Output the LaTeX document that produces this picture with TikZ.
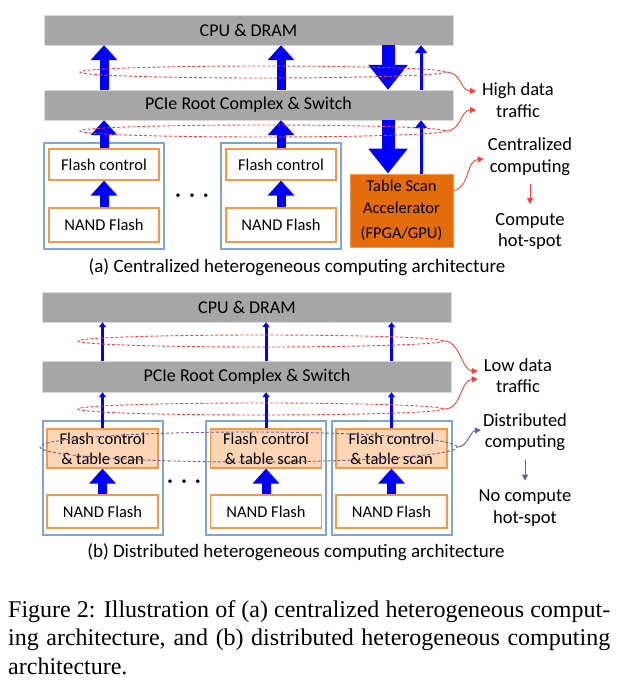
\documentclass[tikz,border=0pt]{standalone}
\usepackage{fontspec}
\setmainfont{Liberation Serif}
\newfontfamily\diafont{Carlito}
\usetikzlibrary{arrows.meta,shapes.geometric}

\definecolor{bargray}{RGB}{166,166,166}
\definecolor{boxblue}{RGB}{125,165,215}
\definecolor{boxorange}{RGB}{247,150,70}
\definecolor{accorange}{RGB}{228,108,10}
\definecolor{scanfill}{RGB}{252,213,180}
\definecolor{trafficred}{RGB}{255,60,60}
\definecolor{computepurple}{RGB}{112,90,150}

\begin{document}
\begin{tikzpicture}[x=1pt, y=-1pt,
	busbar/.style={fill = bargray,
		draw = white!85!black,
		inner sep = 0,
		minimum width = 409pt,
		minimum height = 30pt,
		font = \diafont\fontsize{18}{21}\selectfont},
	ssdbox/.style={draw = boxblue,
		line width = 1.5pt,
		minimum width = 120pt,
		inner sep = 0},
	flashbox/.style={draw = boxorange,
		line width = 1.2pt,
		fill = white,
		minimum width = 110pt,
		minimum height = 34pt,
		inner sep = 0,
		font = \diafont\fontsize{16.5}{19}\selectfont},
	ctrlbox/.style={flashbox, minimum height = 31pt},
	scanbox/.style={flashbox,
		fill = scanfill,
		minimum width = 111pt,
		minimum height = 39pt,
		align = center,
		font = \diafont\fontsize{16.5}{20}\selectfont},
	fatarrow/.style={blue, line width = 9pt, -{Triangle[width=26pt,length=15pt]}},
	bigarrow/.style={blue, line width = 13pt, -{Triangle[width=38pt,length=25pt]}},
	slimarrow/.style={blue, line width = 3pt, -{Triangle[width=12pt,length=8pt]}},
	hairarrow/.style={blue, line width = 3pt, -{Triangle[width=7pt,length=5pt]}},
	traffic/.style={ellipse,
		draw = trafficred,
		dash pattern = on 3pt off 2pt,
		line width = 0.9pt,
		minimum width = 365pt,
		minimum height = 12pt,
		inner sep = 0},
	wavy/.style={trafficred, line width = 0.9pt, -{Triangle[width=6pt,length=6pt]}},
	note/.style={align = center,
		inner sep = 1pt,
		font = \diafont\fontsize{18.5}{21.5}\selectfont},
	subcap/.style={inner sep = 0, font = \diafont\fontsize{19}{22}\selectfont},
	dots/.style={inner sep = 0, font = \diafont\fontsize{10}{10}\selectfont}]

	\useasboundingbox (0,0) rectangle (619,693);

	% (a) centralized
	\node[busbar](cpuA) at (248.5,30){CPU \& DRAM};
	\node[busbar](pcieA) at (248.5,105){PCIe Root Complex \& Switch};

	\node[ssdbox, minimum height = 106pt](ssdA1) at (104,196){};
	\node[ctrlbox](ctrlA1) at (104,164.5){Flash control};
	\node[flashbox](nandA1) at (104,225){NAND Flash};

	\node[ssdbox, minimum height = 106pt](ssdA2) at (281,196){};
	\node[ctrlbox](ctrlA2) at (281,164.5){Flash control};
	\node[flashbox](nandA2) at (281,225){NAND Flash};

	\node[dots](dotsA) at (192,196){\textbullet\hspace{9pt}\textbullet\hspace{9pt}\textbullet};

	\node[draw = boxorange,
		  line width = 1pt,
		  fill = accorange,
		  minimum width = 103pt,
		  minimum height = 73pt,
		  inner sep = 0,
		  align = center,
		  font = \diafont\fontsize{16.5}{22}\selectfont](accel) at (401.5,210.5)
		  {Table Scan\\Accelerator\\[3pt](FPGA/GPU)};

	\coordinate (dnA) at (388,0);
	\coordinate (upA) at (421,0);

	\draw[fatarrow] (nandA1) -- (ctrlA1);
	\draw[fatarrow] (nandA2) -- (ctrlA2);
	\draw[fatarrow] (ctrlA1) -- (pcieA.south -| ctrlA1);
	\draw[fatarrow] (ctrlA2) -- (pcieA.south -| ctrlA2);
	\draw[fatarrow] (pcieA.north -| ctrlA1) -- (cpuA.south -| ctrlA1);
	\draw[fatarrow] (pcieA.north -| ctrlA2) -- (cpuA.south -| ctrlA2);

	\draw[bigarrow] (cpuA.south -| dnA) -- (pcieA.north -| dnA);
	\draw[bigarrow] (pcieA.south -| dnA) -- (accel.north -| dnA);
	\draw[slimarrow] (accel.north -| upA) -- (pcieA.south -| upA);
	\draw[slimarrow] (pcieA.north -| upA) -- (cpuA.south -| upA);

	\node[traffic](ellA1) at (262.5,72){};
	\node[traffic](ellA2) at (262.5,131){};

	\node[note](highA) at (518,100){High data\\traffic};
	\node[note](centA) at (530,156.5){Centralized\\computing};
	\node[note](hotA) at (530,231.5){Compute\\hot-spot};

	\draw[wavy] (ellA1.east) .. controls (462,72) and (460,91) .. ([xshift=-5pt,yshift=9pt]highA.west);
	\draw[wavy] (ellA2.east) .. controls (462,131) and (460,110) .. ([xshift=-5pt,yshift=-10pt]highA.west);
	\draw[wavy] ([yshift=20pt]accel.east) .. controls (470,188) and (466,160) .. ([xshift=-3pt,yshift=-2.5pt]centA.west);
	\draw[wavy, shorten <= 8pt, shorten >= 8pt] (centA) -- (hotA);

	\node[subcap](capA) at (297,267){(a) Centralized heterogeneous computing architecture};

	% (b) distributed
	\node[busbar](cpuB) at (247,307){CPU \& DRAM};
	\node[busbar, minimum height = 31pt](pcieB) at (247,376.5){PCIe Root Complex \& Switch};

	\node[ssdbox, minimum height = 114pt](ssdB1) at (103,478){};
	\node[scanbox](scanB1) at (102.5,448.5){Flash control\\\& table scan};
	\node[flashbox, minimum width = 111pt, minimum height = 33pt](nandB1) at (102.5,511.5){NAND Flash};

	\node[ssdbox, minimum height = 114pt](ssdB2) at (266,478){};
	\node[scanbox](scanB2) at (266,448.5){Flash control\\\& table scan};
	\node[flashbox, minimum width = 111pt, minimum height = 33pt](nandB2) at (266,511.5){NAND Flash};

	\node[ssdbox, minimum height = 114pt](ssdB3) at (392,478){};
	\node[scanbox](scanB3) at (391.5,448.5){Flash control\\\& table scan};
	\node[flashbox, minimum width = 111pt, minimum height = 33pt](nandB3) at (391.5,511.5){NAND Flash};

	\node[dots](dotsB) at (184,482){\textbullet\hspace{9pt}\textbullet\hspace{9pt}\textbullet};

	\draw[fatarrow] (nandB1) -- (scanB1);
	\draw[fatarrow] (nandB2) -- (scanB2);
	\draw[fatarrow] (nandB3) -- (scanB3);
	\draw[hairarrow] (scanB1) -- (pcieB.south -| scanB1);
	\draw[hairarrow] (scanB2) -- (pcieB.south -| scanB2);
	\draw[hairarrow] (scanB3) -- (pcieB.south -| scanB3);
	\draw[hairarrow] (pcieB.north -| scanB1) -- (cpuB.south -| scanB1);
	\draw[hairarrow] (pcieB.north -| scanB2) -- (cpuB.south -| scanB2);
	\draw[hairarrow] (pcieB.north -| scanB3) -- (cpuB.south -| scanB3);

	\node[traffic](ellB1) at (260.5,341){};
	\node[traffic](ellB2) at (260.5,409){};
	\node[traffic,
		  draw = computepurple,
		  minimum width = 417pt,
		  minimum height = 30pt](computeB) at (248.5,447){};

	\node[note](lowB) at (518,375.5){Low data\\traffic};
	\node[note](distB) at (525,432){Distributed\\computing};
	\node[note](nohotB) at (525,508){No compute\\hot-spot};

	\draw[wavy] (ellB1.east) .. controls (460,340) and (462,371) .. ([xshift=-5pt,yshift=4.5pt]lowB.west);
	\draw[wavy] (ellB2.east) .. controls (462,410) and (460,380) .. ([xshift=-5pt,yshift=-3.5pt]lowB.west);
	\draw[wavy, computepurple] (computeB.east) .. controls (468,447) and (470,431) .. ([xshift=-1pt,yshift=2pt]distB.west);
	\draw[wavy, computepurple, shorten <= 8pt, shorten >= 8pt] (distB) -- (nohotB);

	\node[subcap](capB) at (296,552){(b) Distributed heterogeneous computing architecture};

	% figure caption
	\node[anchor = north west,
		  inner sep = 0,
		  text width = 602pt,
		  align = justify,
		  font = \fontsize{24}{28.8}\selectfont](figcap) at (8,600)
		  {Figure 2: Illustration of (a) centralized heterogeneous comput-\linebreak ing architecture, and (b) distributed heterogeneous computing\linebreak architecture.};

\end{tikzpicture}
\end{document}
